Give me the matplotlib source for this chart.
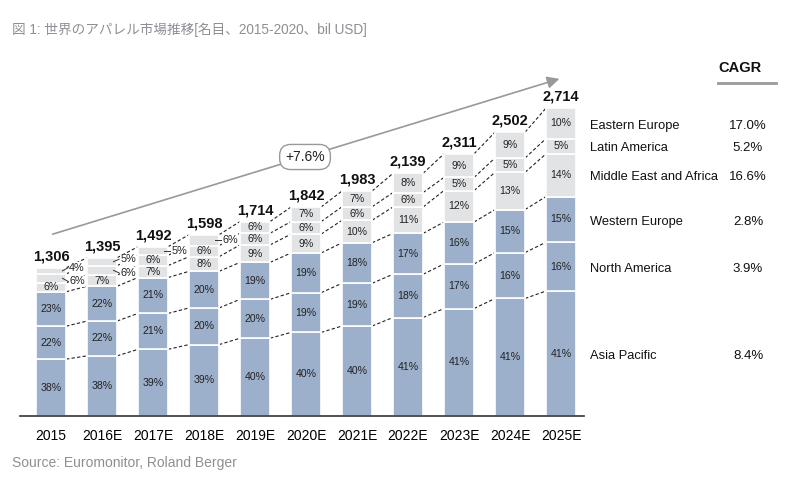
import numpy as np
import matplotlib
matplotlib.use('Agg')
import matplotlib.pyplot as plt
import matplotlib.transforms as mtrans

plt.rcParams['font.family'] = ['Liberation Sans', 'Noto Sans CJK JP', 'DejaVu Sans']

years = ['2015', '2016E', '2017E', '2018E', '2019E', '2020E',
         '2021E', '2022E', '2023E', '2024E', '2025E']
totals = [1306, 1395, 1492, 1598, 1714, 1842, 1983, 2139, 2311, 2502, 2714]

# regions, bottom to top
regions = ['Asia Pacific', 'North America', 'Western Europe',
           'Middle East and Africa', 'Latin America', 'Eastern Europe']
asia_pacific = [38, 38, 39, 39, 40, 40, 40, 41, 41, 41, 41]
north_america = [22, 22, 21, 20, 20, 19, 19, 18, 17, 16, 16]
western_europe = [23, 22, 21, 20, 19, 19, 18, 17, 16, 15, 15]
middle_east_africa = [6, 7, 7, 8, 9, 9, 10, 11, 12, 13, 14]
latin_america = [6, 6, 6, 6, 6, 6, 6, 6, 5, 5, 5]
eastern_europe = [4, 5, 5, 6, 6, 7, 7, 8, 9, 9, 10]
cagr = ['8.4%', '3.9%', '2.8%', '16.6%', '5.2%', '17.0%']
overall_cagr = '+7.6%'

shares = np.array([asia_pacific, north_america, western_europe,
                   middle_east_africa, latin_america, eastern_europe], dtype=float)
colors = ['#9cb0cb'] * 3 + ['#e2e3e5'] * 3

# labels drawn beside the bar (bar index, region index)
outside = [(0, 4), (0, 5), (1, 4), (1, 5), (2, 5), (3, 5)]

fig = plt.figure(figsize=(8, 4.8), dpi=100)
ax = fig.add_axes([0.0255, 0.1333, 0.7045, 0.780])
x = np.arange(len(years))
w = 0.59

heights = shares / shares.sum(axis=0) * np.array(totals)
bottoms = np.vstack([np.zeros(len(years)), np.cumsum(heights, axis=0)[:-1]])
tops = bottoms + heights

for r in range(len(regions)):
    ax.bar(x, heights[r], w, bottom=bottoms[r], color=colors[r],
           edgecolor='white', linewidth=1.2, zorder=2)
    for i in range(len(years)):
        yc = bottoms[r][i] + heights[r][i] / 2
        if (i, r) in outside:
            continue
        ax.text(x[i], yc, '%d%%' % shares[r][i], ha='center', va='center',
                fontsize=7.6, color='#222222', zorder=3)

# outside labels with leader lines
for i in range(len(years)):
    rs = [r for (j, r) in outside if j == i]
    ys = [bottoms[r][i] + heights[r][i] / 2 for r in rs]
    if len(ys) == 2:
        m = np.mean(ys)
        ys = [m - 60, m + 60]
    for r, yl in zip(rs, ys):
        ax.plot([x[i] + w / 2 - 0.07, x[i] + w / 2 + 0.04],
                [bottoms[r][i] + heights[r][i] / 2, yl],
                color='#333333', lw=0.7, zorder=4)
        ax.text(x[i] + w / 2 + 0.06, yl, '%d%%' % shares[r][i], ha='left',
                va='center', fontsize=7.8, color='#222222', zorder=5,
                bbox=dict(boxstyle='square,pad=0.05', fc='white', ec='none'))

# dashed connectors between bars
for r in range(len(regions)):
    for i in range(len(years) - 1):
        ax.plot([x[i] + w / 2, x[i + 1] - w / 2], [tops[r][i], tops[r][i + 1]],
                color='#222222', lw=0.8, dashes=(3, 2), zorder=1)

for i, t in enumerate(totals):
    ax.text(x[i], t + 40, '{:,}'.format(t), ha='center', va='bottom',
            fontsize=10.5, fontweight='bold', color='#111111')

ax.set_xlim(-0.6, 10.45)
ax.set_ylim(0, 3300)
ax.set_xticks(x)
ax.set_xticklabels(years, fontsize=10)
ax.tick_params(axis='x', length=0, pad=9)
ax.set_yticks([])
for s in ['top', 'right', 'left']:
    ax.spines[s].set_visible(False)
ax.spines['bottom'].set_color('#333333')
ax.spines['bottom'].set_linewidth(1.2)

# growth arrow
ax.annotate('', xy=(562, 402), xycoords='figure pixels',
            xytext=(50, 245), textcoords='figure pixels',
            arrowprops=dict(arrowstyle='-|>', color='#999999', lw=1.2,
                            mutation_scale=18))
fig.text(305 / 800, 1 - 157 / 480, overall_cagr, ha='center', va='center',
         fontsize=10, color='#222222',
         bbox=dict(boxstyle='round,pad=0.4,rounding_size=0.8', fc='white',
                   ec='#999999', lw=1))

# CAGR panel
tr = mtrans.blended_transform_factory(fig.transFigure, ax.transData)
for r in range(len(regions)):
    yc = bottoms[r][-1] + heights[r][-1] / 2 - 20
    ax.text(590 / 800, yc, regions[r], transform=tr, ha='left', va='center',
            fontsize=9.3, color='#111111')
    ax.text(748 / 800, yc, cagr[r], transform=tr, ha='center', va='center',
            fontsize=9.5, color='#111111')
fig.text(740 / 800, 1 - 68 / 480, 'CAGR', ha='center', va='center',
         fontsize=10.5, fontweight='bold', color='#111111')
fig.add_artist(plt.Line2D([718 / 800, 776 / 800], [1 - 83 / 480, 1 - 83 / 480],
                          color='#999999', lw=2, transform=fig.transFigure))

fig.text(12 / 800, 1 - 30 / 480,
         '図 1: 世界のアパレル市場推移[名目、2015-2020、bil USD]',
         ha='left', va='center', fontsize=9.8, color='#8c8f94')
fig.text(12 / 800, 1 - 463 / 480, 'Source: Euromonitor, Roland Berger',
         ha='left', va='center', fontsize=10, color='#8c8f94')

fig.savefig('out.png', dpi=100)
